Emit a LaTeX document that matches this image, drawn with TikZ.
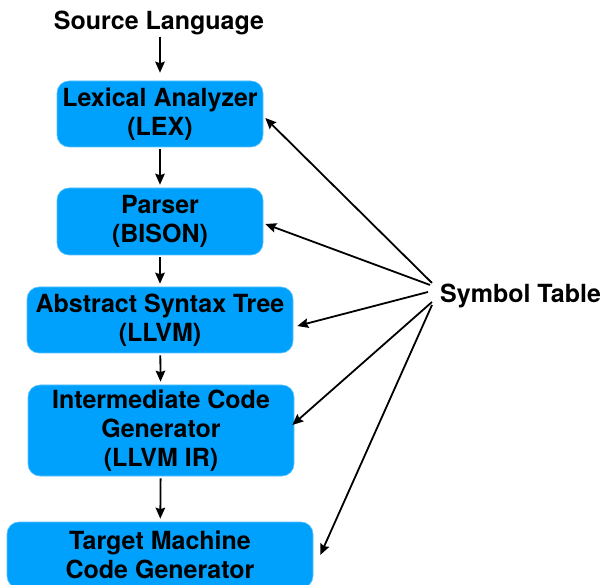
\documentclass[tikz,border=0pt]{standalone}
\usepackage{fontspec}
\setmainfont{TeX Gyre Heros}
\usetikzlibrary{arrows.meta,calc}

\definecolor{boxblue}{RGB}{0,161,252}
\definecolor{boxedge}{RGB}{90,195,255}

\tikzset{
    stage/.style={draw=boxedge, line width=0.6pt, fill=boxblue, rounded corners=12pt,
        align=center, inner sep=0pt, font=\bigfont},
    label/.style={inner sep=0pt, font=\bigfont},
    flow/.style={-{Stealth[length=11pt,width=9.5pt,inset=1.5pt]}, line width=1.8pt}
}
\newcommand{\bigfont}{\fontsize{25}{29}\selectfont\bfseries}

\begin{document}
\begin{tikzpicture}[x=1pt, y=-1pt]
    \useasboundingbox (0,0) rectangle (600,585);

    % Input and the table on the right
    \node[label, anchor=base] (src) at (159,30) {Source Language};
    \node[label, anchor=base west] (symtab) at (440,303) {Symbol Table};

    % Compiler stages
    \node[stage, minimum width=206pt, minimum height=66pt] (lex) at (160,114)
        {Lexical Analyzer\\(LEX)};
    \node[stage, minimum width=206pt, minimum height=67pt] (parser) at (160,221.5)
        {Parser\\(BISON)};
    \node[stage, minimum width=266pt, minimum height=66pt] (ast) at (160,320)
        {Abstract Syntax Tree\\(LLVM)};
    \node[stage, minimum width=266pt, minimum height=91pt] (inter) at (161,430.5)
        {Intermediate Code\\Generator\\(LLVM IR)};
    \node[stage, minimum width=306pt, minimum height=66pt] (target) at (160,555)
        {Target Machine\\Code Generator};

    % Main pipeline
    \draw[flow, shorten <=1pt, shorten >=8pt] (src.south -| lex.north) -- (lex);
    \foreach \a/\b in {lex/parser, parser/ast, ast/inter, inter/target}
        \draw[flow, shorten <=2pt, shorten >=3pt] (\a) -- (\b);

    % Symbol table lookups
    \foreach \dst/\sx/\sy/\ex/\ey in {lex/-8/-13.5/2/4, parser/-10/-11.5/2/2.5,
            ast/-12/-4.5/4/6, inter/-8/5.5/-2/-5.5, target/-8/8.5/7/0}
        \draw[flow] ($(symtab.west)+(\sx,\sy)$) -- ($(\dst.east)+(\ex,\ey)$);
\end{tikzpicture}
\end{document}
